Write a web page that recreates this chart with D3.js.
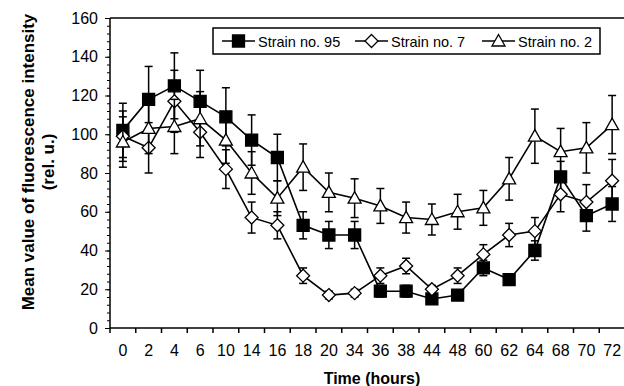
<!DOCTYPE html>
<html>
<head>
<meta charset="utf-8">
<script src="https://d3js.org/d3.v7.min.js"></script>
<style>
  body { margin: 0; background: #fff; }
  svg { display: block; font-family: "Liberation Sans", Arial, sans-serif; }
</style>
</head>
<body>
<svg width="624" height="386"></svg>
<script>
// time points (categorical axis)
var hours = ["0","2","4","6","10","14","16","18","20","34","36","38","44","48","60","62","64","68","70","72"];

// mean values
var strain95 = [102,118,125,117,109,97,88,53,48,48,19,19,15,17,31,25,40,78,58,64];
var strain95Err = [14,17,17,16,15,13,12,7,7,7,3,3,2,2,4,2,5,8,8,9];
var strain7 = [99,93,117,101,82,57,53,27,17,18,27,32,20,27,38,48,50,69,65,76];
var strain7Err = [13,13,16,13,10,8,7,4,2,2,4,4,2,4,5,6,7,9,9,11];
var strain2 = [96,103,104,108,97,80,67,83,70,67,63,57,56,60,62,77,99,91,93,105];
var strain2Err = [13,13,14,14,12,11,9,12,10,10,9,8,8,9,9,11,14,12,13,15];

var yTicks = [0,20,40,60,80,100,120,140,160];

var series = [
	{name: "Strain no. 95", values: strain95, err: strain95Err, marker: "square"},
	{name: "Strain no. 7", values: strain7, err: strain7Err, marker: "diamond"},
	{name: "Strain no. 2", values: strain2, err: strain2Err, marker: "triangle"}
];

var svg = d3.select("svg");

var x = d3.scaleBand().domain(hours).range([110, 625]);
var y = d3.scaleLinear().domain([0, 160]).range([328, 18]);

function cx(i) { return x(hours[i]) + x.bandwidth() / 2; }

// marker shapes
function markerPath(type) {
	if (type == "square") return "M-6,-6H6V6H-6Z";
	if (type == "diamond") return "M0,-6.5L6.5,0L0,6.5L-6.5,0Z";
	return "M0,-6.5L6.5,5H-6.5Z";
}
function markerFill(type) {
	return type == "square" ? "#000" : "#fff";
}

// top border of plot area
svg.append("line")
	.attr("x1", 110).attr("x2", 624)
	.attr("y1", y(160)).attr("y2", y(160))
	.style("stroke", "#000").style("stroke-width", "1.5px");

// y axis, minor ticks then major ticks
var minor = d3.range(0, 161, 4);
svg.append("g")
	.attr("transform", "translate(110,0)")
	.call(d3.axisLeft(y).tickValues(minor).tickSize(3).tickFormat(""))
	.call(function(g) { g.select(".domain").remove(); })
	.selectAll("line").style("stroke", "#000");

var yAxis = svg.append("g")
	.attr("transform", "translate(110,0)")
	.call(d3.axisLeft(y).tickValues(yTicks).tickSize(5).tickPadding(7));
yAxis.select(".domain").attr("d", "M0," + y(160) + "V" + y(0)).style("stroke-width", "1.5px");
yAxis.selectAll("line").style("stroke", "#000");
yAxis.selectAll("text")
	.style("font-size", "16px")
	.style("fill", "#000")
	.style("font-family", "'Liberation Sans', Arial, sans-serif");

// x axis: ticks between categories
var xAxis = svg.append("g")
	.attr("transform", "translate(0,328)")
	.call(d3.axisBottom(x).tickSize(0).tickPadding(17));
xAxis.select(".domain").attr("d", "M110,0H624").style("stroke-width", "1.5px");
xAxis.selectAll("text")
	.style("font-size", "16px")
	.style("fill", "#000")
	.style("font-family", "'Liberation Sans', Arial, sans-serif");
xAxis.selectAll(".sep")
	.data(d3.range(hours.length))
	.enter()
	.append("line")
	.attr("class", "sep")
	.attr("x1", function(i) { return x(hours[i]); })
	.attr("x2", function(i) { return x(hours[i]); })
	.attr("y1", 0).attr("y2", 5)
	.style("stroke", "#000").style("stroke-width", "1.5px");

// axis titles
svg.append("text")
	.attr("x", 372).attr("y", 384)
	.attr("text-anchor", "middle")
	.style("font-size", "16px").style("font-weight", "bold")
	.text("Time (hours)");

var yTitle = svg.append("text")
	.attr("transform", "translate(0,162) rotate(-90)")
	.attr("text-anchor", "middle")
	.style("font-size", "17px").style("font-weight", "bold");
yTitle.append("tspan").attr("x", 0).attr("y", 34).text("Mean value of fluorescence intensity");
yTitle.append("tspan").attr("x", 0).attr("y", 54).text("(rel. u.)");

// series
var line = d3.line()
	.x(function(d, i) { return cx(i); })
	.y(function(d) { return y(d); });

series.forEach(function(s) {
	var g = svg.append("g");
	var eb = g.selectAll(".eb")
		.data(s.values)
		.enter()
		.append("g")
		.style("stroke", "#000").style("stroke-width", "1.5px");
	eb.append("line")
		.attr("x1", function(d, i) { return cx(i); })
		.attr("x2", function(d, i) { return cx(i); })
		.attr("y1", function(d, i) { return y(d - s.err[i]); })
		.attr("y2", function(d, i) { return y(d + s.err[i]); });
	eb.append("line")
		.attr("x1", function(d, i) { return cx(i) - 4; })
		.attr("x2", function(d, i) { return cx(i) + 4; })
		.attr("y1", function(d, i) { return y(d + s.err[i]); })
		.attr("y2", function(d, i) { return y(d + s.err[i]); });
	eb.append("line")
		.attr("x1", function(d, i) { return cx(i) - 4; })
		.attr("x2", function(d, i) { return cx(i) + 4; })
		.attr("y1", function(d, i) { return y(d - s.err[i]); })
		.attr("y2", function(d, i) { return y(d - s.err[i]); });

	g.append("path")
		.datum(s.values)
		.attr("d", line)
		.style("fill", "none")
		.style("stroke", "#000")
		.style("stroke-width", "1.6px");

	g.selectAll(".mk")
		.data(s.values)
		.enter()
		.append("path")
		.attr("transform", function(d, i) { return "translate(" + cx(i) + "," + y(d) + ")"; })
		.attr("d", markerPath(s.marker))
		.style("fill", markerFill(s.marker))
		.style("stroke", "#000")
		.style("stroke-width", "1.3px");
});

// legend
var legend = svg.append("g");
legend.append("rect")
	.attr("x", 213).attr("y", 28)
	.attr("width", 387).attr("height", 26)
	.style("fill", "#fff").style("stroke", "#000").style("stroke-width", "1.5px");

var legendX = [222, 355, 482];
series.forEach(function(s, k) {
	var lx = legendX[k];
	legend.append("line")
		.attr("x1", lx).attr("x2", lx + 33)
		.attr("y1", 41).attr("y2", 41)
		.style("stroke", "#000").style("stroke-width", "1.6px");
	legend.append("path")
		.attr("transform", "translate(" + (lx + 16.5) + ",41)")
		.attr("d", markerPath(s.marker))
		.style("fill", markerFill(s.marker))
		.style("stroke", "#000")
		.style("stroke-width", "1.3px");
	legend.append("text")
		.attr("x", lx + 36).attr("y", 46.5)
		.style("font-size", "14.5px")
		.text(s.name);
});
</script>
</body>
</html>
